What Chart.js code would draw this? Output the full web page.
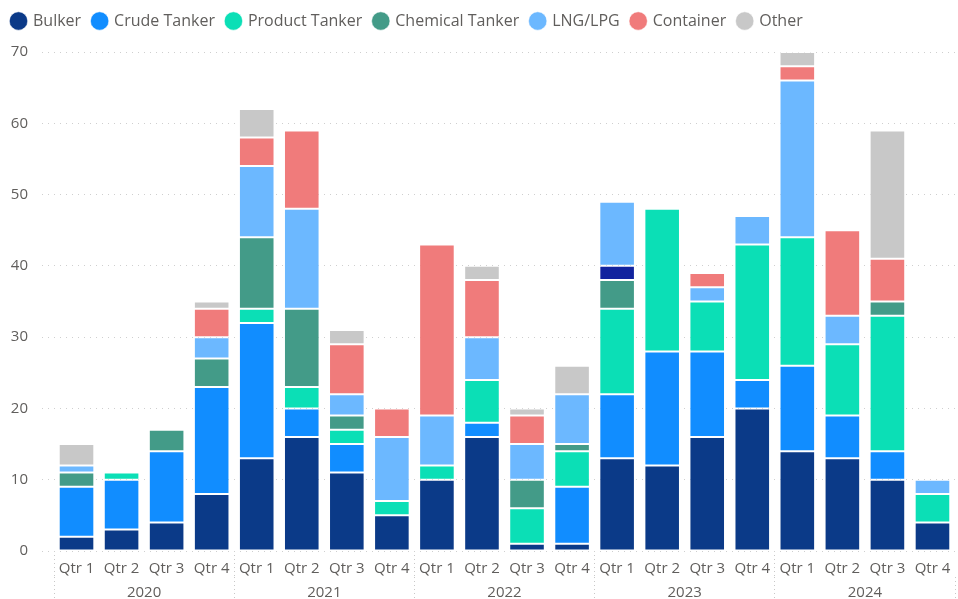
<!DOCTYPE html>
<html>
<head>
<meta charset="utf-8">
<script src="https://cdn.jsdelivr.net/npm/chart.js@4.4.1/dist/chart.umd.min.js"></script>
<style>
  html,body{margin:0;padding:0;background:#fff;}
  #wrap{width:958px;height:599px;position:relative;}
</style>
</head>
<body>
<div id="wrap"><canvas id="c" width="958" height="599"></canvas></div>
<script>
const quarters = ["Qtr 1","Qtr 2","Qtr 3","Qtr 4","Qtr 1","Qtr 2","Qtr 3","Qtr 4","Qtr 1","Qtr 2","Qtr 3","Qtr 4","Qtr 1","Qtr 2","Qtr 3","Qtr 4","Qtr 1","Qtr 2","Qtr 3","Qtr 4"];
const years = ["2020","2021","2022","2023","2024"];
const yTicks = [0,10,20,30,40,50,60,70];

const bulker    = [2,3,4,8, 13,16,11,5, 10,16,1,1, 13,12,16,20, 14,13,10,4];
const crude     = [7,7,10,15, 19,4,4,0, 0,2,0,8, 9,16,12,4, 12,6,4,0];
const product   = [0,1,0,0, 2,3,2,2, 2,6,5,5, 12,20,7,19, 18,10,19,4];
const chemical  = [2,0,3,4, 10,11,2,0, 0,0,4,1, 4,0,0,0, 0,0,2,0];
const unlabeled = [0,0,0,0, 0,0,0,0, 0,0,0,0, 2,0,0,0, 0,0,0,0];
const lng       = [1,0,0,3, 10,14,3,9, 7,6,5,7, 9,0,2,4, 22,4,0,2];
const container = [0,0,0,4, 4,11,7,4, 24,8,4,0, 0,0,2,0, 2,12,6,0];
const other     = [3,0,0,1, 4,0,2,0, 0,2,1,4, 0,0,0,0, 2,0,18,0];

const seriesNames = ["Bulker","Crude Tanker","Product Tanker","Chemical Tanker","","LNG/LPG","Container","Other"];
const seriesData = [bulker,crude,product,chemical,unlabeled,lng,container,other];
const seriesColors = ["#0B3A88","#118DFF","#0BDFB6","#439B88","#12239E","#6CB8FF","#F07B7B","#C8C8C8"];

const textColor = "#605E5C";
const fontFamily = "'Segoe UI','Open Sans','Noto Sans',sans-serif";
const sepColor = "#C8C8C8";

const datasets = seriesNames.map((n,i)=>({
  label: n,
  data: seriesData[i].map(v=> v===0 ? null : v),
  backgroundColor: seriesColors[i],
  borderColor: "rgba(255,255,255,0.55)",
  borderWidth: 1,
  borderSkipped: false,
  barPercentage: 0.79,
  categoryPercentage: 1.0,
  xAxisID: 'x'
}));

const legendMargin = {
  id: 'legendMargin',
  beforeInit(chart) {
    const fit = chart.legend.fit;
    chart.legend.fit = function() { fit.bind(chart.legend)(); this.height += 13; };
  }
};

new Chart(document.getElementById('c'), {
  type: 'bar',
  data: { labels: quarters, datasets },
  plugins: [legendMargin],
  options: {
    responsive: false,
    animation: false,
    layout: { padding: { left: 0, right: 3, top: 1, bottom: 0 } },
    plugins: {
      tooltip: { enabled: false },
      legend: {
        position: 'top',
        align: 'start',
        labels: {
          usePointStyle: true,
          pointStyle: 'circle',
          boxWidth: 13,
          boxHeight: 13,
          padding: 12,
          color: textColor,
          font: { family: fontFamily, size: 16 },
          filter: (item) => item.text !== ""
        }
      }
    },
    scales: {
      x: {
        stacked: true,
        offset: true,
        afterFit: (s) => { s.height = 26; },
        grid: {
          display: true,
          offset: true,
          drawOnChartArea: false,
          drawTicks: true,
          tickLength: 26,
          tickColor: (ctx) => (ctx.index % 4 === 0) ? sepColor : 'rgba(0,0,0,0)',
          tickBorderDash: [1,3]
        },
        border: { display: false },
        ticks: { color: textColor, font: { family: fontFamily, size: 15 }, padding: -17, maxRotation: 0, autoSkip: false }
      },
      x2: {
        type: 'category',
        labels: years,
        position: 'bottom',
        offset: true,
        afterFit: (s) => { s.height = 22; },
        grid: {
          display: true,
          offset: true,
          drawOnChartArea: false,
          drawTicks: true,
          tickLength: 22,
          tickColor: sepColor,
          tickBorderDash: [1,3]
        },
        border: { display: false },
        ticks: { color: textColor, font: { family: fontFamily, size: 15 }, padding: -15, maxRotation: 0, autoSkip: false }
      },
      y: {
        stacked: true,
        min: 0,
        max: 70,
        afterBuildTicks: (s) => { s.ticks = yTicks.map(v=>({value:v})); },
        afterFit: (s) => { s.width = 54; },
        grid: {
          color: "#CFCFCF",
          lineWidth: 1,
          drawTicks: true,
          tickLength: 12,
          tickColor: "#CFCFCF",
          tickBorderDash: [1,5]
        },
        border: { display: false, dash: [1,5] },
        ticks: { color: textColor, font: { family: fontFamily, size: 15 }, padding: 14 }
      }
    }
  }
});
</script>
</body>
</html>
